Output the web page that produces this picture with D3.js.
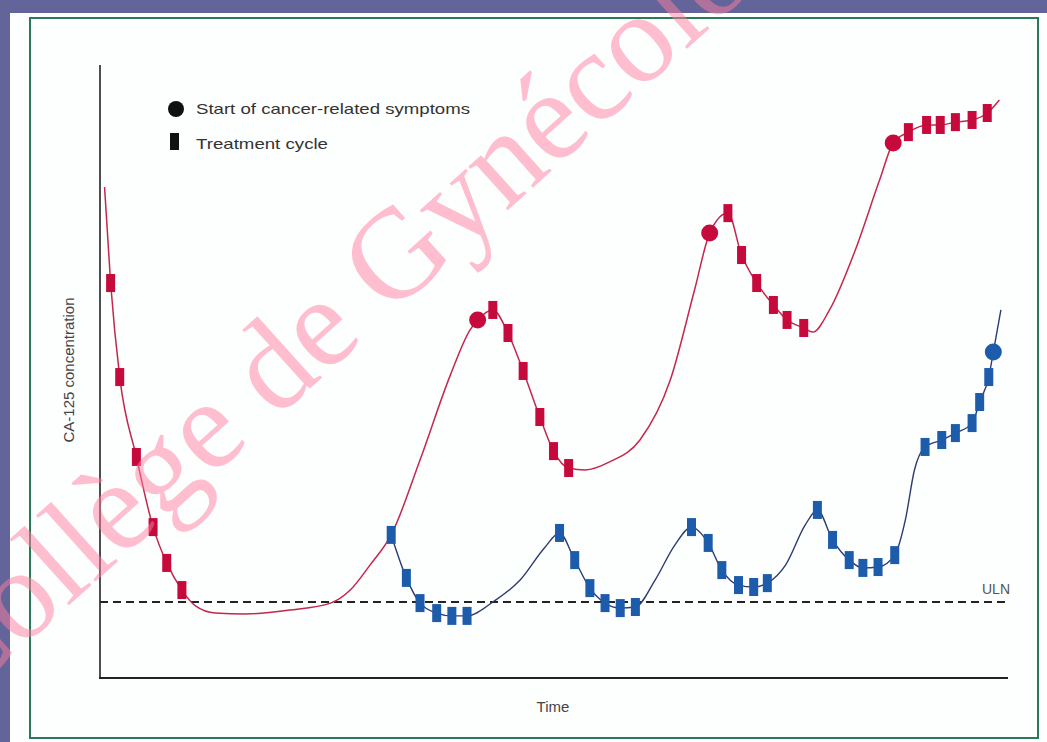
<!DOCTYPE html>
<html>
<head>
<meta charset="utf-8">
<script src="https://cdn.jsdelivr.net/npm/d3@7/dist/d3.min.js"></script>
<style>
  html, body { margin: 0; padding: 0; background: #62649a; }
  svg { display: block; }
</style>
</head>
<body>
<div id="chart"></div>
<script>
// CA-125 (U/mL) over time (months)
var uln = 35;

// red patient: line shape, treatment cycles, symptom starts
var redLine = [[0.3,226.1],[0.7,181.9],[1.3,138.6],[2.4,101.8],[3.5,69.5],[4.4,53.0],[5.4,40.5],
  [6.3,33.2],[7.6,29.9],[9.6,29.5],[12.5,31.3],[15.2,34.5],[16.5,40.5],[17.8,52.0],[19.2,65.9],
  [21.1,100.4],[23.1,139.5],[24.4,160.3],[24.9,164.9],[25.9,169.5],[26.9,158.9],[27.9,141.4],
  [29.0,120.2],[29.9,104.5],[30.9,96.7],[32.0,95.8],[33.6,99.5],[35.6,109.6],[37.6,137.2],
  [39.2,178.7],[40.2,204.9],[41.4,214.1],[42.3,194.8],[43.3,181.9],[44.4,171.8],[45.3,164.9],
  [46.4,161.2],[47.0,159.3],[48.1,169.5],[49.8,197.1],[51.4,229.3],[52.3,246.4],[53.3,251.4],
  [54.5,254.7],[55.4,254.7],[56.4,256.0],[57.5,257.0],[58.5,260.2],[59.3,266.2]];
var redCycles = [[0.7,181.9],[1.3,138.6],[2.4,101.8],[3.5,69.5],[4.4,53.0],[5.4,40.5],
  [25.9,169.5],[26.9,158.9],[27.9,141.4],[29.0,120.2],[29.9,104.5],[30.9,96.7],
  [41.4,214.1],[42.3,194.8],[43.3,181.9],[44.4,171.8],[45.3,164.9],[46.4,161.2],
  [53.3,251.4],[54.5,254.7],[55.4,254.7],[56.4,256.0],[57.5,257.0],[58.5,260.2]];
var redSymptoms = [[24.9,164.9],[40.2,204.9],[52.3,246.4]];

// blue patient: leaves the red line at month 19
var blueLine = [[19.2,65.9],[20.2,46.1],[21.1,34.5],[22.2,29.9],[23.2,28.6],[24.2,28.6],
  [25.9,35.0],[27.7,45.1],[29.3,59.9],[30.3,66.8],[31.3,54.3],[32.3,41.4],[33.3,34.5],
  [34.3,32.2],[35.3,32.7],[36.6,45.1],[37.9,61.2],[39.0,69.5],[40.1,62.2],[41.0,49.7],
  [42.1,42.8],[43.1,41.9],[44.0,43.7],[45.2,52.0],[46.5,70.5],[47.3,77.4],[48.3,63.6],
  [49.4,54.3],[50.3,50.7],[51.3,51.1],[52.4,56.6],[53.1,72.8],[53.7,95.8],[54.4,106.4],
  [55.5,109.6],[56.4,112.8],[57.5,117.4],[58.0,127.1],[58.6,138.6],[58.9,150.1],[59.4,169.5]];
var blueCycles = [[19.2,65.9],[20.2,46.1],[21.1,34.5],[22.2,29.9],[23.2,28.6],[24.2,28.6],
  [30.3,66.8],[31.3,54.3],[32.3,41.4],[33.3,34.5],[34.3,32.2],[35.3,32.7],
  [39.0,69.5],[40.1,62.2],[41.0,49.7],[42.1,42.8],[43.1,41.9],[44.0,43.7],
  [47.3,77.4],[48.3,63.6],[49.4,54.3],[50.3,50.7],[51.3,51.1],[52.4,56.6],
  [54.4,106.4],[55.5,109.6],[56.4,112.8],[57.5,117.4],[58.0,127.1],[58.6,138.6]];
var blueSymptoms = [[58.9,150.1]];

var legendItems = ["Start of cancer-related symptoms", "Treatment cycle"];

var W = 1047, H = 742;
var red = "#c70a3c", redLn = "#c3284c", blue = "#1c5cab", blueLn = "#2c3b70";

var svg = d3.select("#chart").append("svg")
    .attr("width", W)
    .attr("height", H);

// white panel with green frame
svg.append("rect").attr("x", 10).attr("y", 13).attr("width", W - 10).attr("height", H - 13)
    .attr("fill", "#fdfefe");
svg.append("rect").attr("x", 30).attr("y", 18).attr("width", 1008).attr("height", 720)
    .attr("fill", "none").attr("stroke", "#2a7a5a").attr("stroke-width", 2);

var x = d3.scaleLinear().domain([0, 60]).range([100, 1010]);
var y = d3.scaleLinear().domain([0, 300]).range([678, 26.6]);

// axes: plain lines, no ticks
svg.append("line").attr("x1", 100).attr("x2", 100).attr("y1", 65).attr("y2", 679)
    .attr("stroke", "#222").attr("stroke-width", 1.6);
svg.append("line").attr("x1", 99).attr("x2", 1008).attr("y1", 678).attr("y2", 678)
    .attr("stroke", "#222").attr("stroke-width", 2);

// ULN
svg.append("line").attr("x1", 100).attr("x2", 1010).attr("y1", y(uln)).attr("y2", y(uln))
    .attr("stroke", "#222").attr("stroke-width", 2).attr("stroke-dasharray", "8,5");
svg.append("text").attr("x", 1010).attr("y", y(uln) - 8)
    .attr("text-anchor", "end").attr("font-family", "Liberation Sans Narrow, Liberation Sans, sans-serif")
    .attr("font-size", 14).attr("fill", "#555").text("ULN");

svg.append("text").attr("x", 553).attr("y", 712).attr("text-anchor", "middle")
    .attr("font-family", "Liberation Sans Narrow, Liberation Sans, sans-serif")
    .attr("font-size", 15).attr("fill", "#444").text("Time");
svg.append("text").attr("transform", "translate(74,370) rotate(-90)").attr("text-anchor", "middle")
    .attr("font-family", "Liberation Sans Narrow, Liberation Sans, sans-serif")
    .attr("font-size", 15).attr("fill", "#444").text("CA-125 concentration");

var line = d3.line()
    .x(function (d) { return x(d[0]); })
    .y(function (d) { return y(d[1]); })
    .curve(d3.curveMonotoneX);

svg.append("path").datum(blueLine).attr("d", line)
    .attr("fill", "none").attr("stroke", blueLn).attr("stroke-width", 1.4);
svg.append("path").datum(redLine).attr("d", line)
    .attr("fill", "none").attr("stroke", redLn).attr("stroke-width", 1.5);

function cycles(data, color) {
    svg.selectAll(null).data(data).enter().append("rect")
        .attr("x", function (d) { return x(d[0]) - 4.5; })
        .attr("y", function (d) { return y(d[1]) - 9; })
        .attr("width", 9).attr("height", 18)
        .attr("fill", color);
}
function symptoms(data, color) {
    svg.selectAll(null).data(data).enter().append("circle")
        .attr("cx", function (d) { return x(d[0]); })
        .attr("cy", function (d) { return y(d[1]); })
        .attr("r", 8.5).attr("fill", color);
}
cycles(redCycles, red);
symptoms(redSymptoms, red);
cycles(blueCycles, blue);
symptoms(blueSymptoms, blue);

// legend
svg.append("circle").attr("cx", 176).attr("cy", 109).attr("r", 8).attr("fill", "#111");
svg.append("rect").attr("x", 170).attr("y", 133).attr("width", 9).attr("height", 17).attr("fill", "#111");
svg.selectAll(".leg").data(legendItems).enter().append("text")
    .attr("class", "leg")
    .attr("x", 196)
    .attr("y", function (d, i) { return 114 + i * 35; })
    .attr("font-family", "Liberation Sans Narrow, Liberation Sans, sans-serif")
    .attr("font-size", 15).attr("fill", "#333")
    .attr("textLength", function (d, i) { return i === 0 ? 274 : 132; })
    .attr("lengthAdjust", "spacingAndGlyphs")
    .text(function (d) { return d; });

// watermark
svg.append("text")
    .attr("transform", "translate(-44,707) rotate(-42)")
    .attr("font-family", "Liberation Serif, Times New Roman, serif")
    .attr("font-size", 128)
    .attr("fill", "#ff7da0").attr("fill-opacity", 0.5)
    .text("Collège de Gynécologie");
</script>
</body>
</html>
